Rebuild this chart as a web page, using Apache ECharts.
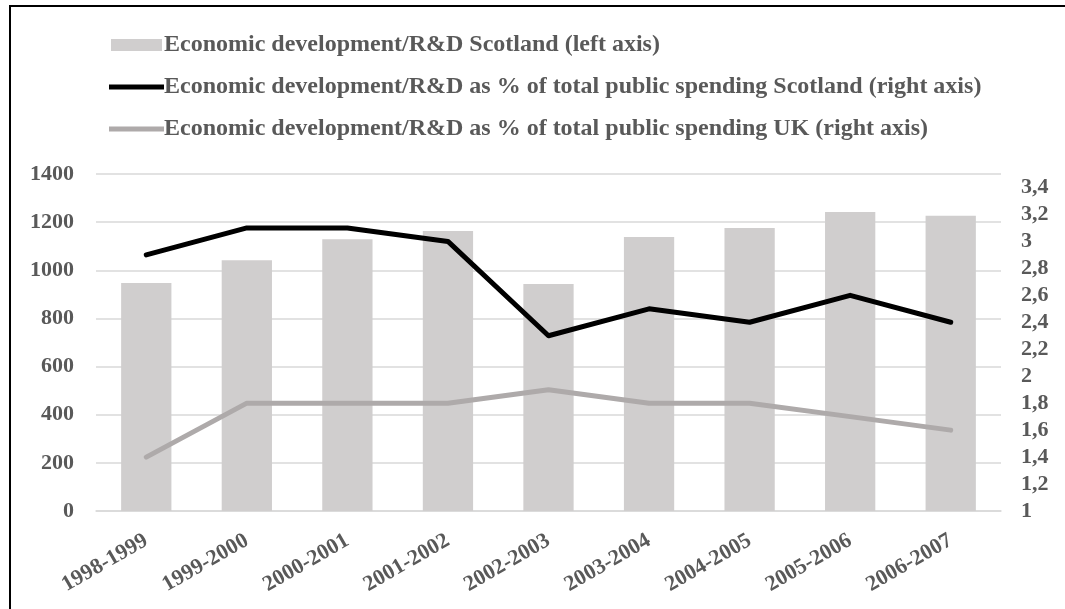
<!DOCTYPE html>
<html>
<head>
<meta charset="utf-8">
<script src="https://cdn.jsdelivr.net/npm/echarts@6/dist/echarts.min.js"></script>
<style>
    html, body { margin: 0; padding: 0; background: #fff; }
    #frame { position: absolute; left: 9px; top: 5px; width: 1200px; height: 800px; border: 2px solid #000; }
    #chart { position: absolute; left: 0; top: 0; width: 1065px; height: 609px; }
</style>
</head>
<body>
<div id="frame"></div>
<div id="chart"></div>
<script>
    const years = ['1998-1999', '1999-2000', '2000-2001', '2001-2002', '2002-2003',
        '2003-2004', '2004-2005', '2005-2006', '2006-2007'];
    const spendScotland = [947, 1042, 1129, 1163, 943, 1138, 1176, 1242, 1227];
    const shareScotland = [2.9, 3.1, 3.1, 3.0, 2.3, 2.5, 2.4, 2.6, 2.4];
    const shareUK = [1.4, 1.8, 1.8, 1.8, 1.9, 1.8, 1.8, 1.7, 1.6];

    const font = '"Liberation Serif", "Times New Roman", serif';
    const textColor = '#595959';
    const lineIcon = 'path://M0,0h110v10h-110z';

    let myChart = echarts.init(document.getElementById('chart'));
    let option = {
        backgroundColor: 'transparent',
        animation: false,
        legend: {
            orient: 'vertical',
            left: 104,
            top: 28,
            itemWidth: 55,
            itemHeight: 12,
            itemGap: 18,
            textStyle: {fontFamily: font, fontWeight: 'bold', fontSize: 24, color: textColor, padding: [0, 0, 0, -5]},
            data: [
                {name: 'Economic development/R&D Scotland (left axis)', icon: 'path://M0,0h51v12h-51z'},
                {name: 'Economic development/R&D as % of total public spending Scotland (right axis)', icon: lineIcon},
                {name: 'Economic development/R&D as % of total public spending UK (right axis)', icon: lineIcon}
            ]
        },
        grid: {left: 96, right: 64, top: 174, bottom: 98},
        xAxis: {
            type: 'category',
            data: years,
            axisLine: {lineStyle: {color: '#d9d9d9', width: 1.5}},
            axisTick: {show: false},
            axisLabel: {
                rotate: 30,
                margin: 28,
                fontFamily: font, fontWeight: 'bold', fontSize: 22, color: textColor
            }
        },
        yAxis: [
            {
                type: 'value',
                min: 0,
                max: 1400,
                interval: 200,
                axisLine: {show: false},
                axisTick: {show: false},
                splitLine: {lineStyle: {color: '#d9d9d9', width: 1.5}},
                axisLabel: {
                    margin: 22,
                    fontFamily: font, fontWeight: 'bold', fontSize: 22, color: textColor,
                    formatter: v => String(v)
                }
            },
            {
                type: 'value',
                min: 1,
                max: 3.5,
                interval: 0.2,
                axisLine: {show: false},
                axisTick: {show: false},
                splitLine: {show: false},
                axisLabel: {
                    margin: 20,
                    showMaxLabel: false,
                    fontFamily: font, fontWeight: 'bold', fontSize: 22, color: textColor,
                    formatter: v => String(Math.round(v * 10) / 10).replace('.', ',')
                }
            }
        ],
        series: [
            {
                name: 'Economic development/R&D Scotland (left axis)',
                type: 'bar',
                yAxisIndex: 0,
                barWidth: '50%',
                itemStyle: {color: '#d0cece'},
                data: spendScotland
            },
            {
                name: 'Economic development/R&D as % of total public spending Scotland (right axis)',
                type: 'line',
                yAxisIndex: 1,
                symbol: 'none',
                lineStyle: {color: '#000', width: 5, cap: 'round', join: 'round'},
                itemStyle: {color: '#000'},
                data: shareScotland
            },
            {
                name: 'Economic development/R&D as % of total public spending UK (right axis)',
                type: 'line',
                yAxisIndex: 1,
                symbol: 'none',
                lineStyle: {color: '#aeaaaa', width: 5, cap: 'round', join: 'round'},
                itemStyle: {color: '#aeaaaa'},
                data: shareUK
            }
        ]
    };
    myChart.setOption(option);
</script>
</body>
</html>
